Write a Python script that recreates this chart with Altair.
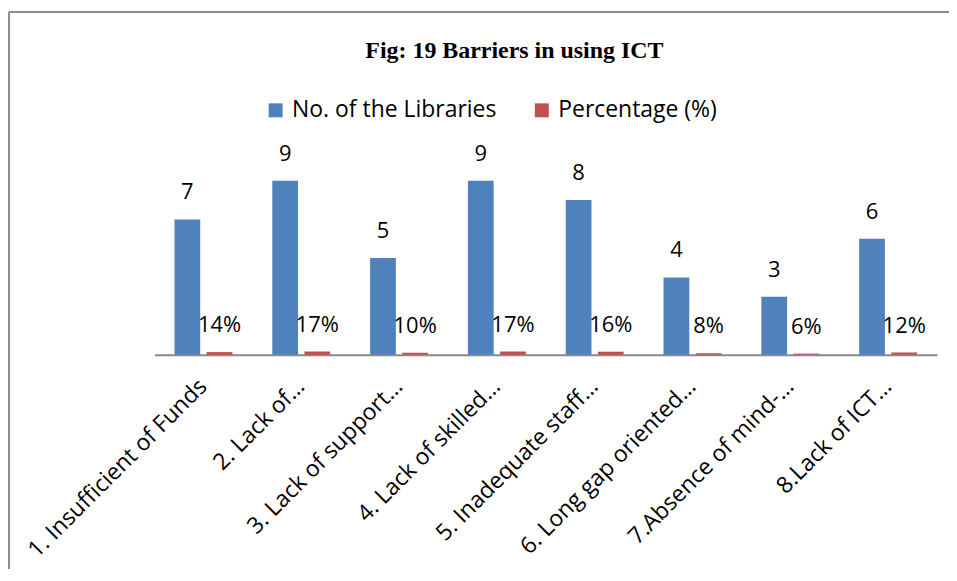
import altair as alt
import pandas as pd

categories = [
    "1. Insufficient of Funds",
    "2. Lack of…",
    "3. Lack of support…",
    "4. Lack of skilled…",
    "5. Inadequate staff…",
    "6. Long gap oriented…",
    "7.Absence of mind-…",
    "8.Lack of ICT…",
]
libraries = [7, 9, 5, 9, 8, 4, 3, 6]
percentages = [14, 17, 10, 17, 16, 8, 6, 12]
series = ["No. of the Libraries", "Percentage (%)"]
colors = ["#4F81BD", "#C0504D"]
title_text = "Fig: 19 Barriers in using ICT"

rows = []
for c, n, p in zip(categories, libraries, percentages):
    rows.append({"category": c, "series": series[0], "value": n, "label": str(n)})
    rows.append({"category": c, "series": series[1], "value": p / 100, "label": f"{p}%"})
df = pd.DataFrame(rows)

FONT = "Open Sans"

x_enc = alt.X(
    "category:N",
    sort=categories,
    title=None,
    scale=alt.Scale(paddingInner=0.408, paddingOuter=0.204),
    axis=alt.Axis(
        labelAngle=-45,
        labelFont=FONT,
        labelFontSize=23,
        labelColor="#000000",
        labelPadding=20,
        labelOffset=-8,
        labelLimit=400,
        labelOverlap=False,
        ticks=False,
        domainColor="#898989",
        domainWidth=2,
        grid=False,
    ),
)
xoff = alt.XOffset("series:N", sort=series, scale=alt.Scale(paddingInner=0.2, paddingOuter=0))
y_enc = alt.Y("value:Q", scale=alt.Scale(domain=[0, 10]), axis=None)

base = alt.Chart(df)

bars = base.mark_bar().encode(
    x=x_enc,
    xOffset=xoff,
    y=y_enc,
    color=alt.Color(
        "series:N",
        sort=series,
        scale=alt.Scale(domain=series, range=colors),
        legend=alt.Legend(
            title=None,
            orient="none",
            legendX=110,
            legendY=-63,
            direction="horizontal",
            symbolType="square",
            symbolSize=196,
            symbolStrokeWidth=0,
            labelFont=FONT,
            labelFontSize=23,
            labelColor="#000000",
            labelOffset=5,
            labelLimit=400,
            columnPadding=33,
            padding=0,
        ),
    ),
)

labels = base.mark_text(
    baseline="alphabetic", dy=-20, font=FONT, fontSize=22, color="#000000"
).encode(
    x=alt.X("category:N", sort=categories),
    xOffset=alt.XOffset("series:N", sort=series),
    y=alt.Y("value:Q"),
    text="label:N",
)

single = alt.Data(values=[{"t": title_text}])
title = alt.Chart(single).mark_text(
    font="Liberation Serif", fontSize=24, fontWeight="bold", color="#000000",
    align="center", baseline="alphabetic",
).encode(x=alt.value(361), y=alt.value(-104), text="t:N")

frame_top = alt.Chart(single).mark_rule(color="#8c8c8c", strokeWidth=2).encode(
    x=alt.value(-146), x2=alt.value(802), y=alt.value(-150)
)
frame_left = alt.Chart(single).mark_rule(color="#8c8c8c", strokeWidth=2).encode(
    x=alt.value(-146), y=alt.value(-150), y2=alt.value(420)
)

chart = (
    alt.layer(bars, labels, title, frame_top, frame_left)
    .properties(
        width=785,
        height=194,
        background="#ffffff",
        autosize=alt.AutoSizeParams(type="none"),
        padding={"left": 147, "top": 153, "right": 12, "bottom": 214},
    )
    .configure_view(stroke="transparent", strokeWidth=0)
)

chart.save("out.html", embed_options={"renderer": "svg", "actions": False})
